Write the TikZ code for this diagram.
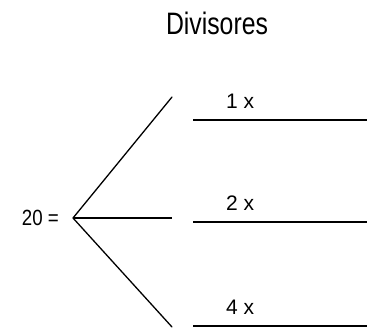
\documentclass[tikz,border=0pt]{standalone}
\usepackage{fontspec}
\setmainfont{Liberation Sans}
\usetikzlibrary{positioning}

\begin{document}
\begin{tikzpicture}[
    x=1pt, y=-1pt,
    lbl/.style={inner sep=0pt, anchor=base west, font=\fontsize{21}{24}\selectfont},
    spoke/.style={line width=1.3pt, line cap=round},
    slot/.style={line width=2.8pt}
]
\useasboundingbox (0,0) rectangle (367,329);
\node[inner sep=0pt, anchor=base, xscale=0.8, font=\fontsize{31}{34}\selectfont] (title) at (217,35) {Divisores};
\coordinate (v) at (73,218);
\node[inner sep=0pt, left=14pt of v, xscale=0.85, font=\fontsize{22}{26}\selectfont] (n) {20 =};
\coordinate (s1) at (172,97);
\coordinate (s2) at (172,218);
\coordinate (s3) at (172,327);
\coordinate (l1a) at (193,120);
\coordinate (l1b) at (367,120);
\coordinate (l2a) at (193,222);
\coordinate (l2b) at (367,222);
\coordinate (l3a) at (193,326);
\coordinate (l3b) at (367,326);
\node[lbl] (d1) at (226,108) {1 x};
\node[lbl] (d2) at (226,210) {2 x};
\node[lbl] (d3) at (226,314) {4 x};
\draw[spoke] (v) -- (s1);
\draw[slot] (v) -- (s2);
\draw[spoke] (v) -- (s3);
\draw[slot] (l1a) -- (l1b);
\draw[slot] (l2a) -- (l2b);
\draw[slot] (l3a) -- (l3b);
\end{tikzpicture}
\end{document}
